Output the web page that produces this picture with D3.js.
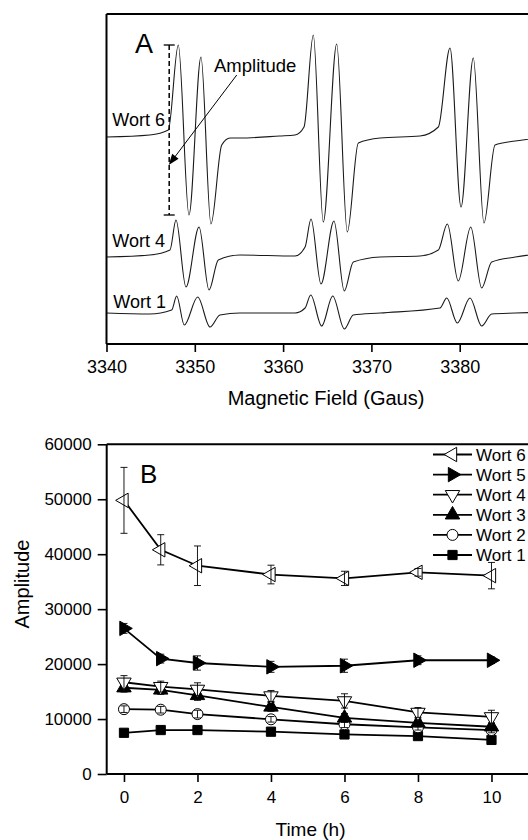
<!DOCTYPE html>
<html><head><meta charset="utf-8">
<script src="https://cdn.jsdelivr.net/npm/d3@7"></script>
<style>
body{margin:0;background:#fff}
svg{display:block}
text{font-family:"Liberation Sans",Arial,Helvetica,sans-serif;fill:#000}
</style>
</head><body>
<svg id="chart" width="528" height="840"></svg>
<script>
// ---------- DATA ----------
// Panel A: EPR spectra, [magnetic field (G), signal (a.u., includes trace offset)]
const fieldTicks = [3340, 3350, 3360, 3370, 3380];
const wort6Spectrum = [
  [3340.0,207],[3344.9,209],[3347.0,214],[3348.13,299],[3349.34,129],[3350.70,287],[3351.83,120],
  [3353.05,199],[3354.0,206],[3355.1,206],[3359.6,208],[3361.35,209],[3362.37,217],[3363.42,309],
  [3364.55,122],[3366.07,300],[3367.27,112],[3368.52,201],[3371.0,206],[3375.5,208],[3377.58,217],
  [3378.90,296],[3380.15,137],[3381.54,286],[3382.75,121],[3384.0,199],[3386.3,203],[3390.0,207]
];
const wort4Spectrum = [
  [3340.0,87],[3344.9,89],[3347.19,94],[3347.87,124],[3349.0,57],[3350.48,117],[3351.61,54],
  [3352.66,84],[3355.1,89],[3361.35,88],[3362.49,97],[3363.16,125],[3364.29,60],[3365.76,123],
  [3366.93,53],[3367.95,82],[3371.0,87],[3375.5,88],[3377.58,94],[3378.60,120],[3379.84,63],
  [3381.25,117],[3382.49,56],[3383.62,82],[3386.3,87],[3390.0,91]
];
const wort1Spectrum = [
  [3340.0,31],[3344.9,30],[3347.38,34],[3347.95,48],[3348.81,19],[3350.33,47],[3351.72,17],
  [3352.85,29],[3355.1,31],[3361.35,31],[3362.49,36],[3363.13,49],[3364.37,18],[3365.62,48],
  [3366.93,15],[3367.95,29],[3371.0,31],[3377.77,36],[3378.53,46],[3379.73,21],[3381.17,46],
  [3382.49,18],[3383.62,30],[3386.3,31],[3390.0,32]
];
const spectrumNames = ["Wort 6", "Wort 4", "Wort 1"];

// Panel B: amplitude vs time
const times = [0, 1, 2, 4, 6, 8, 10];
const timeTicks = [0, 2, 4, 6, 8, 10];
const amplitudeTicks = [0, 10000, 20000, 30000, 40000, 50000, 60000];
const seriesNames = ["Wort 6", "Wort 5", "Wort 4", "Wort 3", "Wort 2", "Wort 1"];
const wort6Amp = [49800, 40800, 37900, 36300, 35600, 36700, 36100];
const wort6Err = [6000, 2750, 3600, 1700, 1300, 700, 2400];
const wort5Amp = [26500, 21000, 20200, 19500, 19700, 20700, 20700];
const wort5Err = [900, 800, 1300, 1000, 1200, 800, 600];
const wort4Amp = [16700, 15900, 15400, 14200, 13300, 11200, 10400];
const wort4Err = [1200, 1000, 1200, 1000, 1300, 900, 1200];
const wort3Amp = [15700, 15300, 14300, 12200, 10200, 9300, 8600];
const wort3Err = [800, 800, 900, 800, 800, 700, 700];
const wort2Amp = [11800, 11700, 10900, 9950, 9050, 8500, 8000];
const wort2Err = [600, 600, 700, 500, 600, 500, 500];
const wort1Amp = [7500, 8000, 8000, 7700, 7200, 6900, 6200];
const wort1Err = [400, 400, 400, 400, 400, 400, 400];

// ---------- DRAWING ----------
const svg = d3.select("#chart");
const FONT = '"Liberation Sans",Arial,Helvetica,sans-serif';

// ===== Panel A =====
const xA = d3.scaleLinear().domain([3340, 3390]).range([106.5, 548]);
const yA = d3.scaleLinear().domain([0, 330]).range([344, 14]);
const gA = svg.append("g");

const lineA = d3.line().x(d => xA(d[0])).y(d => yA(d[1])).curve(d3.curveMonotoneX);
[wort6Spectrum, wort4Spectrum, wort1Spectrum].forEach(s => {
  gA.append("path").attr("d", lineA(s)).attr("fill", "none")
    .attr("stroke", "#1a1a1a").attr("stroke-width", 1.1);
});

// frame
gA.append("line").attr("x1", xA(3340)).attr("x2", xA(3390)).attr("y1", yA(330)).attr("y2", yA(330))
  .attr("stroke", "#000").attr("stroke-width", 2);
gA.append("line").attr("x1", xA(3340)).attr("x2", xA(3340)).attr("y1", yA(330)).attr("y2", yA(0))
  .attr("stroke", "#000").attr("stroke-width", 2);

const axA = gA.append("g").attr("transform", `translate(0,${yA(0)})`)
  .call(d3.axisBottom(xA).tickValues(fieldTicks).tickSize(8).tickPadding(8).tickFormat(d3.format("d")));
axA.select(".domain").attr("stroke-width", 2).attr("d", `M${xA(3340)},0H${xA(3390)}`);
axA.selectAll(".tick line").attr("stroke-width", 1.6);
axA.selectAll(".tick text").attr("font-size", 18).attr("font-family", FONT);

gA.append("text").attr("x", 326).attr("y", 405).attr("text-anchor", "middle")
  .attr("font-size", 20).text("Magnetic Field (Gaus)");

// trace labels
const labelPos = [[165, 126], [165, 247], [166, 307.5]];
spectrumNames.forEach((n, i) => {
  gA.append("text").attr("x", labelPos[i][0]).attr("y", labelPos[i][1]).attr("text-anchor", "end")
    .attr("font-size", 18).text(n);
});

// panel letter
gA.append("text").attr("x", 135).attr("y", 53).attr("font-size", 27).text("A");

// amplitude marker: dashed line from peak to trough of first Wort 6 line
const ampTop = wort6Spectrum[3][1], ampBot = wort6Spectrum[4][1];
const dashX = xA(3347.1);
gA.append("line").attr("x1", dashX).attr("x2", dashX).attr("y1", yA(ampTop)).attr("y2", yA(ampBot))
  .attr("stroke", "#000").attr("stroke-width", 1.5).attr("stroke-dasharray", "5,3");
[ampTop, ampBot].forEach(v => {
  gA.append("line").attr("x1", dashX - 5.5).attr("x2", dashX + 5.5).attr("y1", yA(v)).attr("y2", yA(v))
    .attr("stroke", "#000").attr("stroke-width", 1.3);
});
// annotation arrow
const ax1 = xA(3354.75), ay1 = yA(269), ax2 = xA(3347.05), ay2 = yA(179);
const ang = Math.atan2(ay2 - ay1, ax2 - ax1);
const hl = 11, hw = 4;
gA.append("line").attr("x1", ax1).attr("y1", ay1)
  .attr("x2", ax2 - Math.cos(ang) * hl * 0.8).attr("y2", ay2 - Math.sin(ang) * hl * 0.8)
  .attr("stroke", "#000").attr("stroke-width", 1);
const bx = ax2 - Math.cos(ang) * hl, by = ay2 - Math.sin(ang) * hl;
gA.append("path").attr("d",
  `M${ax2},${ay2}L${bx + Math.sin(ang) * hw},${by - Math.cos(ang) * hw}L${bx - Math.sin(ang) * hw},${by + Math.cos(ang) * hw}Z`)
  .attr("fill", "#000");
gA.append("text").attr("x", 214).attr("y", 71.5).attr("font-size", 18.5).text("Amplitude");

// ===== Panel B =====
const xB = d3.scaleLinear().domain([-0.47, 11.5]).range([106.7, 546.6]);
const yB = d3.scaleLinear().domain([0, 60000]).range([774, 444.3]);
const gB = svg.append("g");

// frame top
gB.append("line").attr("x1", xB(-0.47)).attr("x2", xB(11.5)).attr("y1", yB(60000)).attr("y2", yB(60000))
  .attr("stroke", "#000").attr("stroke-width", 2);

const axBx = gB.append("g").attr("transform", `translate(0,${yB(0)})`)
  .call(d3.axisBottom(xB).tickValues(timeTicks).tickSize(8).tickPadding(9));
axBx.select(".domain").attr("stroke-width", 2).attr("d", `M${xB(-0.47)},0H${xB(11.5)}`);
const axBy = gB.append("g").attr("transform", `translate(${xB(-0.47)},0)`)
  .call(d3.axisLeft(yB).tickValues(amplitudeTicks).tickSize(9).tickPadding(6).tickFormat(d3.format("d")));
axBy.select(".domain").attr("stroke-width", 2).attr("d", `M0,${yB(0)}V${yB(60000)}`);
[axBx, axBy].forEach(a => {
  a.selectAll(".tick line").attr("stroke-width", 1.6);
  a.selectAll(".tick text").attr("font-size", 17).attr("font-family", FONT);
});

gB.append("text").attr("x", 310.5).attr("y", 835.5).attr("text-anchor", "middle")
  .attr("font-size", 19).text("Time (h)");
gB.append("text").attr("transform", "translate(29,584) rotate(-90)").attr("text-anchor", "middle")
  .attr("font-size", 20).text("Amplitude");
gB.append("text").attr("x", 140).attr("y", 483).attr("font-size", 26).text("B");

const series = [
  {name: seriesNames[0], v: wort6Amp, e: wort6Err, sym: d3.symbolTriangle, rot: -90, fill: "#fff", size: 90},
  {name: seriesNames[1], v: wort5Amp, e: wort5Err, sym: d3.symbolTriangle, rot: 90, fill: "#000", size: 90},
  {name: seriesNames[2], v: wort4Amp, e: wort4Err, sym: d3.symbolTriangle, rot: 180, fill: "#fff", size: 90},
  {name: seriesNames[3], v: wort3Amp, e: wort3Err, sym: d3.symbolTriangle, rot: 0, fill: "#000", size: 90},
  {name: seriesNames[4], v: wort2Amp, e: wort2Err, sym: d3.symbolCircle, rot: 0, fill: "#fff", size: 95},
  {name: seriesNames[5], v: wort1Amp, e: wort1Err, sym: d3.symbolSquare, rot: 0, fill: "#000", size: 85}
];

const lineB = d3.line().x(d => xB(d[0])).y(d => yB(d[1]));
series.slice().reverse().forEach(s => {
  const pts = times.map((t, i) => [t, s.v[i]]);
  gB.append("path").attr("d", lineB(pts)).attr("fill", "none").attr("stroke", "#000").attr("stroke-width", 1.8);
});
series.slice().reverse().forEach(s => {
  const g = gB.append("g");
  times.forEach((t, i) => {
    g.append("path").attr("d", d3.symbol(s.sym, s.size)())
      .attr("transform", `translate(${xB(t)},${yB(s.v[i])}) rotate(${s.rot})`)
      .attr("fill", s.fill).attr("stroke", "#000").attr("stroke-width", 1);
  });
  times.forEach((t, i) => {
    const x = xB(t), y1 = yB(s.v[i] + s.e[i]), y2 = yB(s.v[i] - s.e[i]);
    g.append("line").attr("x1", x).attr("x2", x).attr("y1", y1).attr("y2", y2).attr("stroke", "#000").attr("stroke-width", 0.9);
    [y1, y2].forEach(y => g.append("line").attr("x1", x - 3.5).attr("x2", x + 3.5).attr("y1", y).attr("y2", y)
      .attr("stroke", "#000").attr("stroke-width", 0.9));
  });
});

// legend
const legY0 = 454.5, legDy = 20.1;
series.forEach((s, i) => {
  const y = legY0 + i * legDy;
  gB.append("line").attr("x1", 433).attr("x2", 472).attr("y1", y).attr("y2", y).attr("stroke", "#000").attr("stroke-width", 1.8);
  gB.append("path").attr("d", d3.symbol(s.sym, s.size)())
    .attr("transform", `translate(452.5,${y}) rotate(${s.rot})`)
    .attr("fill", s.fill).attr("stroke", "#000").attr("stroke-width", 1);
  gB.append("text").attr("x", 476).attr("y", y + 6).attr("font-size", 17).text(s.name);
});
</script>
</body></html>
